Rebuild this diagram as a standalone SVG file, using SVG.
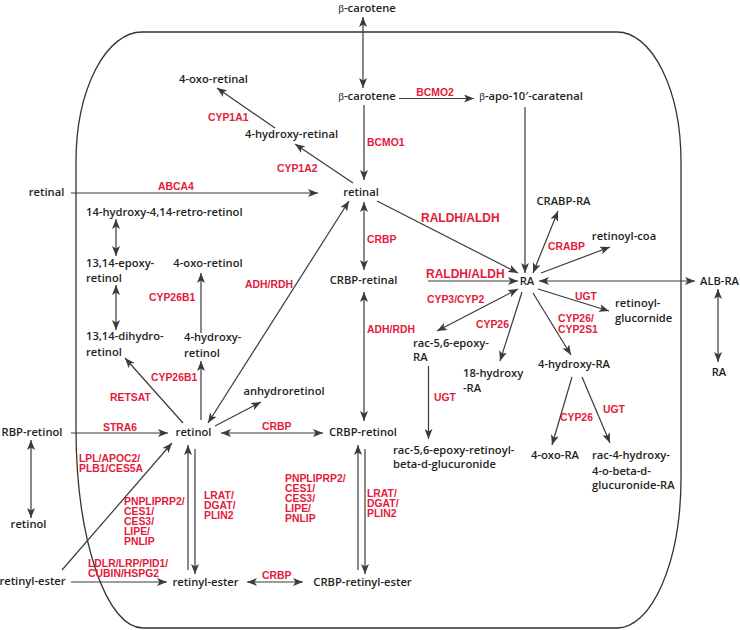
<svg xmlns="http://www.w3.org/2000/svg" width="740" height="630" viewBox="0 0 740 630">
<style>
.n{font-family:"Open Sans","Noto Sans",sans-serif;font-size:11.2px;font-weight:600;fill:#231f20}
.m{text-anchor:middle}
.r{font-family:"Liberation Sans",Arial,sans-serif;font-size:10.4px;font-weight:bold;fill:#e31b3b}
.big{font-size:12px}
.b{font-family:"Liberation Serif",serif;font-weight:normal}
.c{fill:none;stroke:#3a3a3a;stroke-width:1.2}
.a{marker-end:url(#ah)}
.d{marker-end:url(#ah);marker-start:url(#ah)}
</style>
<defs>
<marker id="ah" viewBox="0 0 10 8" refX="10" refY="4" markerWidth="10" markerHeight="8" markerUnits="userSpaceOnUse" orient="auto-start-reverse">
<path d="M0,0 L10,4 L0,8 L2.5,4 z" fill="#3a3a3a"/>
</marker>
</defs>
<rect width="740" height="630" fill="#fff"/>
<path id="cell" d="M142,32 L617,32 A64,130 0 0 1 681,162 L681,479 A64,150 0 0 1 617,628 L143,628 A67,200 0 0 1 76,428 L76,162 A66,130 0 0 1 142,32 Z" fill="none" stroke="#333" stroke-width="1.3"/>
<g id="connectors">
<line class="c d" x1="363" y1="17" x2="363" y2="88"/>
<line class="c a" x1="399" y1="98.5" x2="474" y2="98.5"/>
<line class="c a" x1="364" y1="105" x2="364" y2="180"/>
<line class="c a" x1="525" y1="107" x2="525" y2="273"/>
<line class="c a" x1="275" y1="128" x2="217" y2="88"/>
<line class="c a" x1="353" y1="183" x2="295" y2="144"/>
<line class="c a" x1="71" y1="193" x2="318" y2="193"/>
<line class="c d" x1="116" y1="219" x2="116" y2="256"/>
<line class="c d" x1="116" y1="285" x2="116" y2="330"/>
<line class="c a" x1="201" y1="333" x2="201" y2="273"/>
<line class="c a" x1="201" y1="420" x2="201" y2="361"/>
<line class="c a" x1="183" y1="423" x2="125" y2="358"/>
<line class="c d" x1="208" y1="423" x2="349" y2="201"/>
<line class="c a" x1="215" y1="426" x2="261" y2="402"/>
<line class="c d" x1="364" y1="202" x2="364" y2="270"/>
<line class="c d" x1="364" y1="292" x2="364" y2="421"/>
<line class="c d" x1="221" y1="433" x2="323" y2="433"/>
<line class="c a" x1="71" y1="433" x2="168" y2="433"/>
<line class="c d" x1="31" y1="440" x2="31" y2="518"/>
<line class="c a" x1="62" y1="570" x2="172" y2="443"/>
<line class="c a" x1="71" y1="582" x2="167" y2="582"/>
<line class="c a" x1="188" y1="570" x2="188" y2="445"/>
<line class="c a" x1="195" y1="449" x2="195" y2="574"/>
<line class="c d" x1="247" y1="582" x2="303" y2="582"/>
<line class="c a" x1="358" y1="570" x2="358" y2="445"/>
<line class="c a" x1="365" y1="449" x2="365" y2="574"/>
<line class="c a" x1="377" y1="201" x2="518" y2="273"/>
<line class="c a" x1="428" y1="281" x2="518" y2="281"/>
<line class="c d" x1="533" y1="273" x2="558" y2="211"/>
<line class="c a" x1="541" y1="273" x2="610" y2="247"/>
<line class="c d" x1="539" y1="281" x2="695" y2="281"/>
<line class="c d" x1="718" y1="289" x2="718" y2="362"/>
<line class="c a" x1="538" y1="289" x2="609" y2="311"/>
<line class="c a" x1="533" y1="293" x2="571" y2="355"/>
<line class="c a" x1="522" y1="292" x2="500" y2="361"/>
<line class="c d" x1="518" y1="289" x2="437" y2="331"/>
<line class="c a" x1="428.5" y1="366" x2="428.5" y2="439"/>
<line class="c a" x1="572" y1="377" x2="552" y2="445"/>
<line class="c a" x1="582" y1="377" x2="610" y2="443"/>
</g>
<g id="labels">
<text class="r" x="208" y="121">CYP1A1</text>
<text class="r" x="277" y="172">CYP1A2</text>
<text class="r" x="158" y="190">ABCA4</text>
<text class="r m" x="435" y="96">BCMO2</text>
<text class="r" x="367" y="146">BCMO1</text>
<text class="r" x="367" y="243">CRBP</text>
<text class="r big" x="421" y="222">RALDH/ALDH</text>
<text class="r big" x="426" y="278">RALDH/ALDH</text>
<text class="r" x="149" y="301">CYP26B1</text>
<text class="r" x="151" y="381">CYP26B1</text>
<text class="r" x="110" y="401">RETSAT</text>
<text class="r" x="245" y="288">ADH/RDH</text>
<text class="r" x="367" y="333">ADH/RDH</text>
<text class="r" x="103" y="431">STRA6</text>
<text class="r" x="262" y="430">CRBP</text>
<text class="r" x="79" y="462">LPL/APOC2/<tspan x="79" y="472">PLB1/CES5A</tspan></text>
<text class="r" x="124" y="505">PNPLIPRP2/<tspan x="124" y="515">CES1/</tspan><tspan x="124" y="525">CES3/</tspan><tspan x="124" y="535">LIPE/</tspan><tspan x="124" y="545">PNLIP</tspan></text>
<text class="r" x="204" y="499">LRAT/<tspan x="204" y="509">DGAT/</tspan><tspan x="204" y="519">PLIN2</tspan></text>
<text class="r" x="88" y="567">LDLR/LRP/PID1/<tspan x="88" y="577">CUBIN/HSPG2</tspan></text>
<text class="r" x="262" y="579">CRBP</text>
<text class="r" x="285" y="482">PNPLIPRP2/<tspan x="285" y="492">CES1/</tspan><tspan x="285" y="502">CES3/</tspan><tspan x="285" y="512">LIPE/</tspan><tspan x="285" y="522">PNLIP</tspan></text>
<text class="r" x="367" y="497">LRAT/<tspan x="367" y="507">DGAT/</tspan><tspan x="367" y="517">PLIN2</tspan></text>
<text class="r" x="548" y="250">CRABP</text>
<text class="r" x="575" y="300">UGT</text>
<text class="r" x="427" y="303">CYP3/CYP2</text>
<text class="r" x="476" y="328">CYP26</text>
<text class="r" x="558" y="322">CYP26/<tspan x="558" y="333">CYP2S1</tspan></text>
<text class="r" x="434" y="401">UGT</text>
<text class="r" x="560" y="421">CYP26</text>
<text class="r" x="603" y="413">UGT</text>
</g>
<g id="n-bcarotene-out"><text class="n m" x="367" y="11.5"><tspan class="b">β</tspan>-carotene</text></g>
<g id="n-bcarotene"><text class="n m" x="367" y="100"><tspan class="b">β</tspan>-carotene</text></g>
<g id="n-bapo"><text class="n m" x="531" y="100"><tspan class="b">β</tspan>-apo-10′-caratenal</text></g>
<g id="n-4oxoretinal"><text class="n m" x="213.5" y="83">4-oxo-retinal</text></g>
<g id="n-4hydroxyretinal"><text class="n m" x="291.5" y="138">4-hydroxy-retinal</text></g>
<g id="n-retinal-out"><text class="n m" x="46.5" y="196">retinal</text></g>
<g id="n-retinal"><text class="n m" x="361" y="196">retinal</text></g>
<g id="n-14hydroxy"><text class="n" x="86" y="216">14-hydroxy-4,14-retro-retinol</text></g>
<g id="n-epoxyretinol"><text class="n" x="86" y="267">13,14-epoxy-<tspan x="86" y="282">retinol</tspan></text></g>
<g id="n-dihydroretinol"><text class="n" x="86" y="340">13,14-dihydro-<tspan x="86" y="356">retinol</tspan></text></g>
<g id="n-4oxoretinol"><text class="n m" x="208" y="267">4-oxo-retinol</text></g>
<g id="n-4hydroxyretinol"><text class="n" x="184" y="341">4-hydroxy-<tspan x="184" y="357">retinol</tspan></text></g>
<g id="n-anhydroretinol"><text class="n m" x="284" y="395">anhydroretinol</text></g>
<g id="n-crbpretinal"><text class="n m" x="363.5" y="284">CRBP-retinal</text></g>
<g id="n-crbpretinol"><text class="n m" x="363" y="436">CRBP-retinol</text></g>
<g id="n-retinol"><text class="n m" x="193.5" y="436">retinol</text></g>
<g id="n-rbpretinol"><text class="n m" x="32" y="436">RBP-retinol</text></g>
<g id="n-retinol-out"><text class="n m" x="28.5" y="528">retinol</text></g>
<g id="n-retinylester-out"><text class="n m" x="32.5" y="585">retinyl-ester</text></g>
<g id="n-retinylester"><text class="n m" x="205.5" y="586">retinyl-ester</text></g>
<g id="n-crbpretinylester"><text class="n m" x="362.5" y="586">CRBP-retinyl-ester</text></g>
<g id="n-ra"><text class="n m" x="527" y="285">RA</text></g>
<g id="n-crabpra"><text class="n m" x="563.5" y="205">CRABP-RA</text></g>
<g id="n-retinoylcoa"><text class="n m" x="624" y="240">retinoyl-coa</text></g>
<g id="n-albra"><text class="n m" x="719.5" y="285">ALB-RA</text></g>
<g id="n-ra-out"><text class="n m" x="719" y="376">RA</text></g>
<g id="n-retinoylglucornide"><text class="n" x="615" y="307">retinoyl-<tspan x="615" y="322">glucornide</tspan></text></g>
<g id="n-4hydroxyra"><text class="n m" x="574" y="368">4-hydroxy-RA</text></g>
<g id="n-18hydroxyra"><text class="n" x="463" y="377">18-hydroxy<tspan x="463" y="392">-RA</tspan></text></g>
<g id="n-epoxyra"><text class="n" x="413" y="347">rac-5,6-epoxy-<tspan x="413" y="361">RA</tspan></text></g>
<g id="n-epoxyglucuronide"><text class="n" x="393" y="454">rac-5,6-epoxy-retinoyl-<tspan x="393" y="468">beta-d-glucuronide</tspan></text></g>
<g id="n-4oxora"><text class="n m" x="555" y="459">4-oxo-RA</text></g>
<g id="n-rac4hydroxy"><text class="n" x="592" y="459">rac-4-hydroxy-<tspan x="592" y="475">4-o-beta-d-</tspan><tspan x="592" y="489">glucuronide-RA</tspan></text></g>
</svg>
